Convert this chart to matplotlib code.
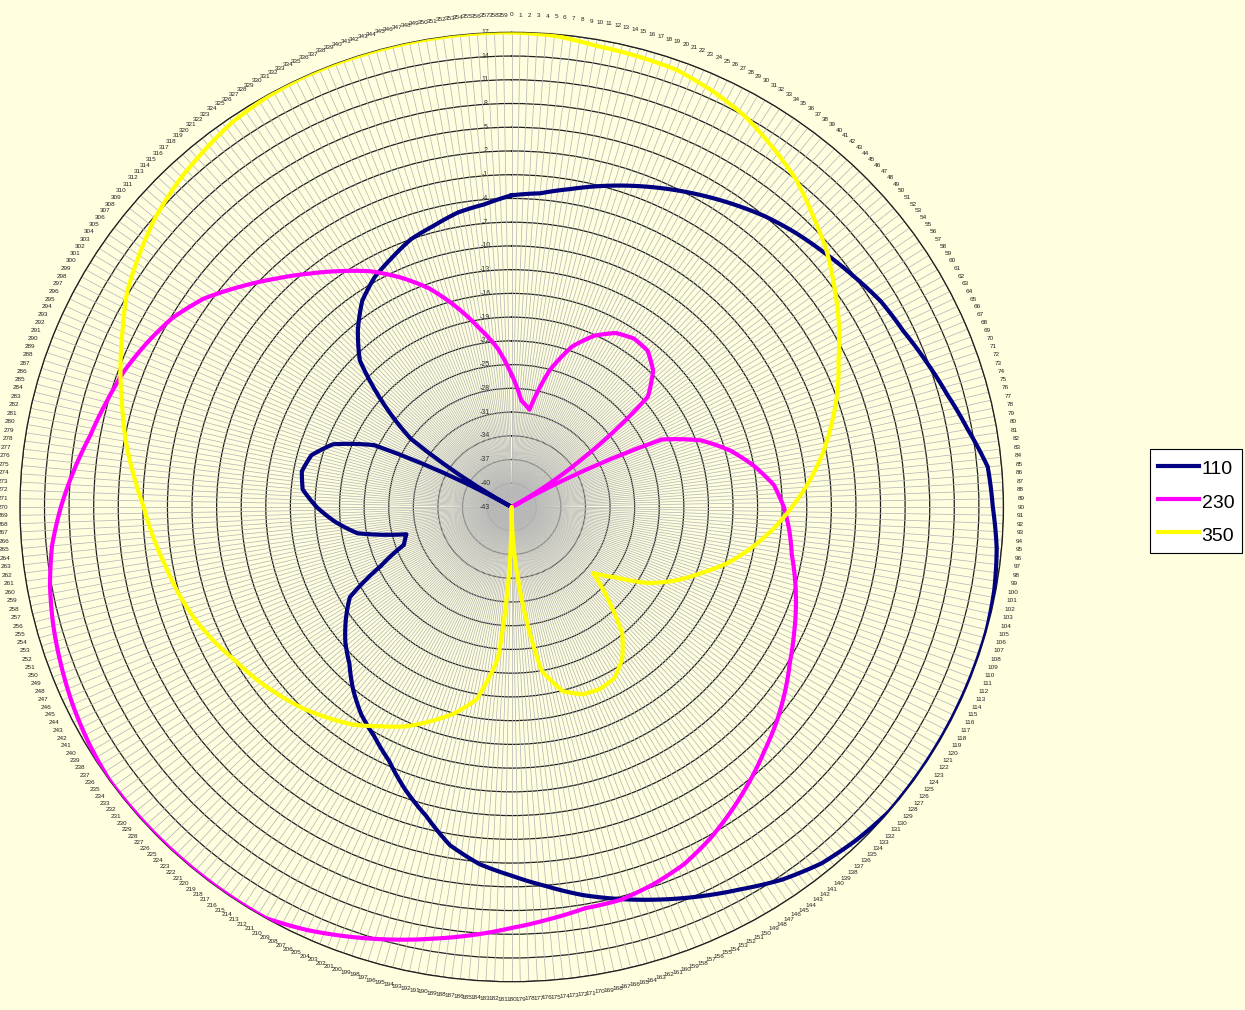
import numpy as np
import matplotlib.pyplot as plt

plt.rcParams['font.family'] = ['Liberation Sans', 'DejaVu Sans']

# sample directions (degrees) and level readings for each series
angles = list(range(0, 360, 5))

s110 = [-3.6, -3.2, -2.2, -1.0, 0.2, 1.4, 2.6, 3.8, 5.0, 6.0,
        6.9, 7.9, 9.0, 9.7, 10.8, 12.0, 13.5, 15.3, 15.7, 16.4,
        16.8, 17, 17, 17, 17, 17, 17, 16.5, 15.8, 14.5,
        12.8, 11.3, 9.8, 8.3, 6.8, 5.1, 3.6, 2.3, 0.4, -2.6,
        -5.0, -7.6, -9.5, -11.0, -12.9, -15.0, -16.5, -18.3, -20.2, -25.4,
        -29.0, -29.7, -23.9, -21.4, -19.2, -17.4, -17.0, -17.7, -19.8, -24.5,
        -43, -28.0, -22.5, -16.8, -13.8, -11.2, -9.5, -8.3, -7.0, -6.2,
        -5.2, -4.6]

s230 = [-26.3, -29.5, -30.5, -25.1, -21.4, -19.1, -17.6, -17.0, -17.2, -18.6,
        -21.3, -33.0, -43, -22.8, -18.4, -15.4, -13.0, -10.9, -9.8, -9.0,
        -8.3, -7.2, -6.1, -5.0, -3.8, -2.3, -0.8, 0.6, 2.2, 3.8,
        5.4, 6.8, 7.7, 8.4, 8.5, 9.3, 10.2, 11.3, 12.4, 13.6,
        14.8, 16.0, 17, 17, 17, 17, 17, 17, 16.6, 16.1,
        15.5, 14.9, 14.2, 13.3, 12.0, 10.6, 9.2, 8.2, 7.3, 6.1,
        4.8, 2.9, 0.3, -2.2, -4.5, -6.6, -8.6, -11.0, -13.6, -16.8,
        -20.0, -22.8]

s350 = [17, 16.8, 16.2, 16.0, 15.8, 15.0, 14.0, 12.5, 11.0, 9.0,
        7.2, 5.1, 3.1, 1.0, -0.7, -2.6, -4.5, -6.6, -8.8, -11.0,
        -13.3, -15.7, -18.5, -21.0, -23.8, -27.5, -30.0, -26.3, -22.0, -19.5,
        -18.0, -17.6, -17.8, -18.9, -22.0, -33.5, -43, -23.8, -18.3, -16.0,
        -14.2, -12.4, -11.0, -9.4, -8.2, -7.0, -6.0, -5.0, -4.1, -2.9,
        -1.8, -0.9, -0.1, 0.9, 1.9, 3.3, 4.8, 6.2, 7.8, 9.4,
        11.2, 12.5, 13.8, 14.8, 15.6, 16.4, 16.8, 17, 17, 17,
        17, 17]

series_names = ['110', '230', '350']
series_values = [s110, s230, s350]
series_colors = ['#000080', '#FF00FF', '#FFFF00']

r_min, r_max, r_step = -43, 17, 3
bg = '#FFFFE0'

fig = plt.figure(figsize=(12.45, 10.1), dpi=100, facecolor=bg)
ax = fig.add_axes([0.016, 0.028, 0.790, 0.940], projection='polar')
ax.set_aspect('auto')
ax.set_facecolor(bg)
ax.set_theta_zero_location('N')
ax.set_theta_direction(-1)
ax.set_axisbelow(True)

# one spoke and one label per degree
deg = np.arange(360)
ax.set_xticks(np.deg2rad(deg))
ax.set_xticklabels([str(d) for d in deg], fontsize=4.6, color='#222222')
ax.tick_params(axis='x', pad=2)
ax.xaxis.grid(True, color='#b8b8b8', lw=0.55)

rings = np.arange(r_min, r_max + 1, r_step)
ax.set_ylim(r_min, r_max)
ax.set_yticks(rings)
ax.set_yticklabels([])
ax.yaxis.grid(True, color='#202020', lw=0.9)
ax.spines['polar'].set_color('#202020')
ax.spines['polar'].set_linewidth(0.9)

# spokes sit over the rings, so the dense middle reads as a grey disc
ax.yaxis.set_zorder(0.4)
ax.xaxis.set_zorder(0.6)

for v in rings:
    ax.annotate(str(v), xy=(0, v), xytext=(-19, 0), textcoords='offset points',
                ha='center', va='center', fontsize=5, color='#333333', zorder=2)

theta = np.deg2rad(angles + [360])
for name, vals, col in zip(series_names, series_values, series_colors):
    ln, = ax.plot(theta, vals + [vals[0]], color=col, lw=3, label=name,
                  zorder=3, solid_joinstyle='round')
    # follow the polar curve between readings instead of straight chords
    ln.get_path()._interpolation_steps = 6

leg = fig.legend(loc='upper left', bbox_to_anchor=(1150 / 1245, 1 - 449 / 1010),
                 fontsize=14, frameon=True, fancybox=False, edgecolor='black',
                 facecolor='white', framealpha=1, handlelength=2.1,
                 handleheight=1.4, handletextpad=0.15, borderpad=0.4,
                 labelspacing=0.55, borderaxespad=0)
leg.get_frame().set_linewidth(0.8)

fig.savefig('out.png', dpi=100, facecolor=bg)
